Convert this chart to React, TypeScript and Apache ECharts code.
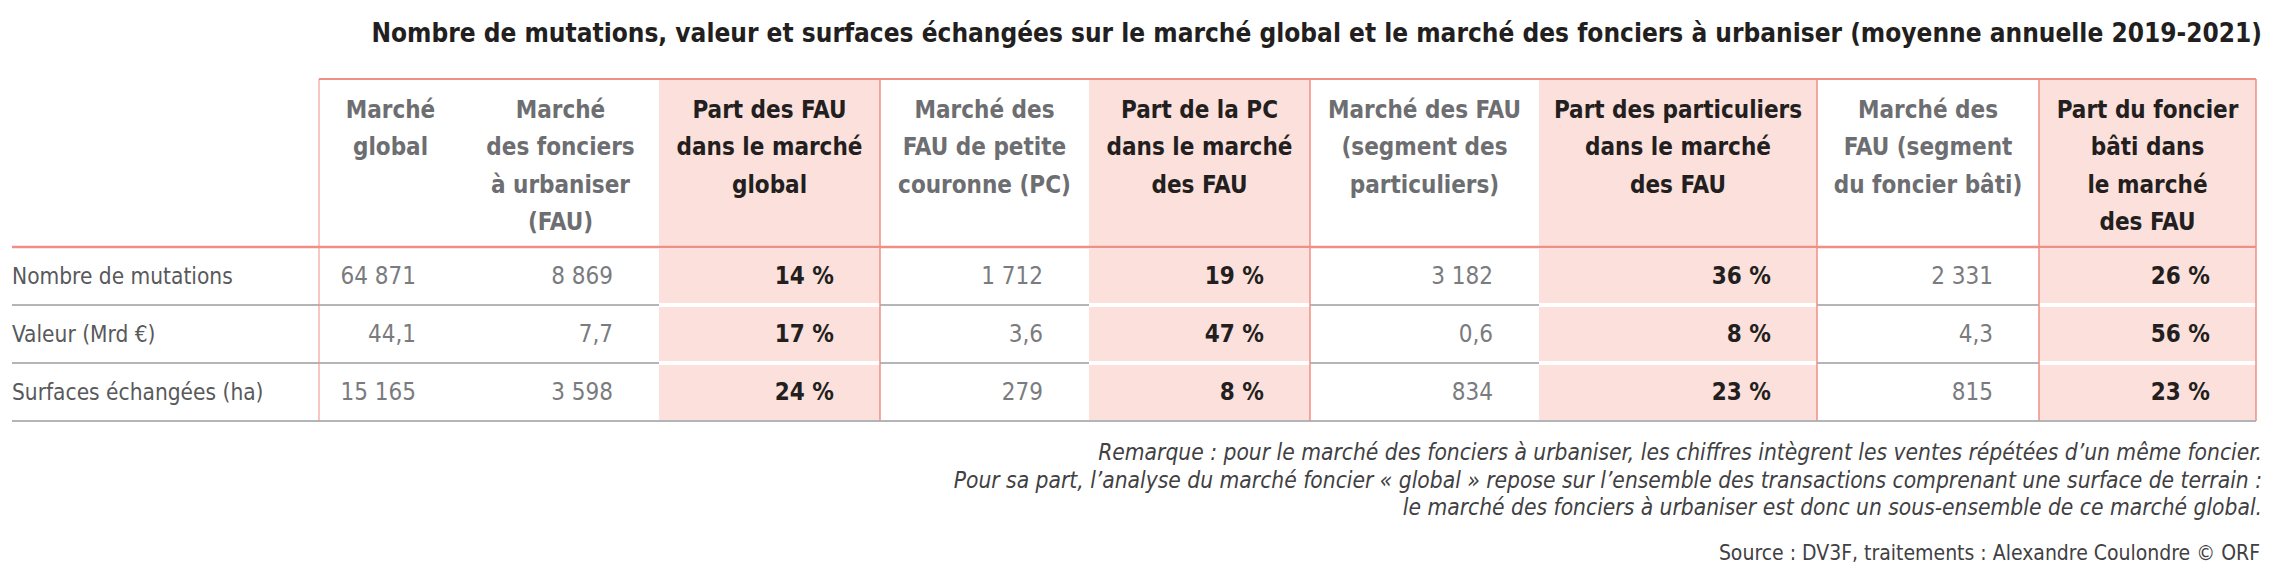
import React, { useEffect, useRef } from "react";
import * as echarts from "echarts";

const title =
  "Nombre de mutations, valeur et surfaces échangées sur le marché global et le marché des fonciers à urbaniser (moyenne annuelle 2019-2021)";

const rowLabels = ["Nombre de mutations", "Valeur (Mrd €)", "Surfaces échangées (ha)"];

const columnHeaders = [
  "Marché\nglobal",
  "Marché\ndes fonciers\nà urbaniser\n(FAU)",
  "Part des FAU\ndans le marché\nglobal",
  "Marché des\nFAU de petite\ncouronne (PC)",
  "Part de la PC\ndans le marché\ndes FAU",
  "Marché des FAU\n(segment des\nparticuliers)",
  "Part des particuliers\ndans le marché\ndes FAU",
  "Marché des\nFAU (segment\ndu foncier bâti)",
  "Part du foncier\nbâti dans\nle marché\ndes FAU",
];

// values per column, rows: mutations, valeur (Mrd €), surfaces (ha)
const marcheGlobal = [64871, 44.1, 15165];
const marcheFAU = [8869, 7.7, 3598];
const partFAUGlobal = [14, 17, 24];
const marcheFAUPC = [1712, 3.6, 279];
const partPC = [19, 47, 8];
const marcheFAUParticuliers = [3182, 0.6, 834];
const partParticuliers = [36, 8, 23];
const marcheFAUBati = [2331, 4.3, 815];
const partBati = [26, 56, 23];

const columns = [
  marcheGlobal,
  marcheFAU,
  partFAUGlobal,
  marcheFAUPC,
  partPC,
  marcheFAUParticuliers,
  partParticuliers,
  marcheFAUBati,
  partBati,
];
const isShare = [false, false, true, false, true, false, true, false, true];

const notes = [
  "Remarque : pour le marché des fonciers à urbaniser, les chiffres intègrent les ventes répétées d’un même foncier.",
  "Pour sa part, l’analyse du marché foncier « global » repose sur l’ensemble des transactions comprenant une surface de terrain :",
  "le marché des fonciers à urbaniser est donc un sous-ensemble de ce marché global.",
];
const source = "Source : DV3F, traitements : Alexandre Coulondre © ORF";

// layout (pixels)
const colEdges = [319, 462, 659, 880, 1089, 1310, 1539, 1817, 2039, 2256];
const tableLeft = 12;
const tableTop = 79;
const headerBottom = 247;
const rowHeight = 58;

const FONT = "'DejaVu Sans Condensed', 'Liberation Sans Narrow', sans-serif";
const PINK = "#fce0db";
const SALMON = "#f08f86";
const GRAY_LINE = "#b4b5b8";

function fmt(v: number, rowIdx: number, share: boolean): string {
  if (share) return `${v} %`;
  if (rowIdx === 1) return v.toFixed(1).replace(".", ",");
  return String(Math.round(v)).replace(/\B(?=(\d{3})+(?!\d))/g, " ");
}

export default function App() {
  const ref = useRef<HTMLDivElement>(null);

  useEffect(() => {
    if (!ref.current) return;
    const chart = echarts.init(ref.current, undefined, { renderer: "svg" });
    const g: any[] = [];
    const tableBottom = headerBottom + rowHeight * rowLabels.length;

    // pink header cells
    columns.forEach((_, ci) => {
      if (!isShare[ci]) return;
      g.push({
        type: "rect",
        silent: true,
        shape: { x: colEdges[ci], y: tableTop, width: colEdges[ci + 1] - colEdges[ci], height: headerBottom - tableTop },
        style: { fill: PINK },
      });
    });

    // row separators and pink data cells
    rowLabels.forEach((_, ri) => {
      const y0 = headerBottom + ri * rowHeight;
      const y1 = y0 + rowHeight;
      columns.forEach((_, ci) => {
        if (!isShare[ci]) return;
        g.push({
          type: "rect",
          silent: true,
          shape: {
            x: colEdges[ci],
            y: y0 + 2,
            width: colEdges[ci + 1] - colEdges[ci],
            height: rowHeight - (ri === rowLabels.length - 1 ? 2 : 4),
          },
          style: { fill: PINK },
        });
      });
      if (ri < rowLabels.length - 1) {
        const segs: [number, number][] = [[tableLeft, colEdges[0]]];
        columns.forEach((_, ci) => {
          if (!isShare[ci]) segs.push([colEdges[ci], colEdges[ci + 1]]);
        });
        segs.forEach(([a, b]) =>
          g.push({
            type: "line",
            silent: true,
            shape: { x1: a, y1: y1, x2: b, y2: y1 },
            style: { stroke: GRAY_LINE, lineWidth: 2 },
          })
        );
      }
    });

    // bottom gray line
    g.push({
      type: "line",
      silent: true,
      shape: { x1: tableLeft, y1: tableBottom, x2: colEdges[colEdges.length - 1], y2: tableBottom },
      style: { stroke: GRAY_LINE, lineWidth: 2 },
    });

    // vertical lines
    const vLines = [0, 3, 5, 7, 8, 9];
    vLines.forEach((ei) => {
      g.push({
        type: "line",
        silent: true,
        shape: { x1: colEdges[ei], y1: tableTop, x2: colEdges[ei], y2: tableBottom },
        style: { stroke: SALMON, lineWidth: ei === 0 ? 1 : 1.5 },
      });
    });

    // top line and header bottom line
    g.push({
      type: "line",
      silent: true,
      shape: { x1: colEdges[0], y1: tableTop, x2: colEdges[colEdges.length - 1], y2: tableTop },
      style: { stroke: SALMON, lineWidth: 2 },
    });
    g.push({
      type: "line",
      silent: true,
      shape: { x1: tableLeft, y1: headerBottom, x2: colEdges[colEdges.length - 1], y2: headerBottom },
      style: { stroke: SALMON, lineWidth: 2.5 },
    });

    // header texts
    columnHeaders.forEach((h, ci) => {
      g.push({
        type: "text",
        silent: true,
        x: (colEdges[ci] + colEdges[ci + 1]) / 2,
        y: 91,
        style: {
          text: h,
          fill: isShare[ci] ? "#231f20" : "#6d6e71",
          fontFamily: FONT,
          fontWeight: "bold",
          fontSize: 24,
          lineHeight: 37.5,
          align: "center",
          verticalAlign: "top",
        },
      });
    });

    // row labels and values
    rowLabels.forEach((label, ri) => {
      const yc = headerBottom + ri * rowHeight + rowHeight / 2;
      g.push({
        type: "text",
        silent: true,
        x: tableLeft,
        y: yc,
        style: {
          text: label,
          fill: "#58595b",
          fontFamily: FONT,
          fontSize: 22.5,
          align: "left",
          verticalAlign: "middle",
        },
      });
      columns.forEach((col, ci) => {
        g.push({
          type: "text",
          silent: true,
          x: colEdges[ci + 1] - 46,
          y: yc,
          style: {
            text: fmt(col[ri], ri, isShare[ci]),
            fill: isShare[ci] ? "#231f20" : "#7a7b7e",
            fontFamily: FONT,
            fontWeight: isShare[ci] ? "bold" : "normal",
            fontSize: 24,
            align: "right",
            verticalAlign: "middle",
          },
        });
      });
    });

    // title
    g.push({
      type: "text",
      silent: true,
      x: 2262,
      y: 33,
      style: {
        text: title,
        fill: "#231f20",
        fontFamily: FONT,
        fontWeight: "bold",
        fontSize: 26,
        align: "right",
        verticalAlign: "middle",
      },
    });

    // notes
    notes.forEach((n, i) => {
      g.push({
        type: "text",
        silent: true,
        x: 2262,
        y: 452 + i * 27.5,
        style: {
          text: n,
          fill: "#414042",
          fontFamily: FONT,
          fontStyle: "italic",
          fontSize: 22.6,
          align: "right",
          verticalAlign: "middle",
        },
      });
    });
    g.push({
      type: "text",
      silent: true,
      x: 2260,
      y: 553,
      style: {
        text: source,
        fill: "#414042",
        fontFamily: FONT,
        fontSize: 21,
        align: "right",
        verticalAlign: "middle",
      },
    });

    chart.setOption({ animation: false, graphic: g });
    return () => chart.dispose();
  }, []);

  return (
    <div
      ref={ref}
      style={{ position: "fixed", left: 0, top: 0, width: 2273, height: 581, background: "#fff" }}
    />
  );
}
